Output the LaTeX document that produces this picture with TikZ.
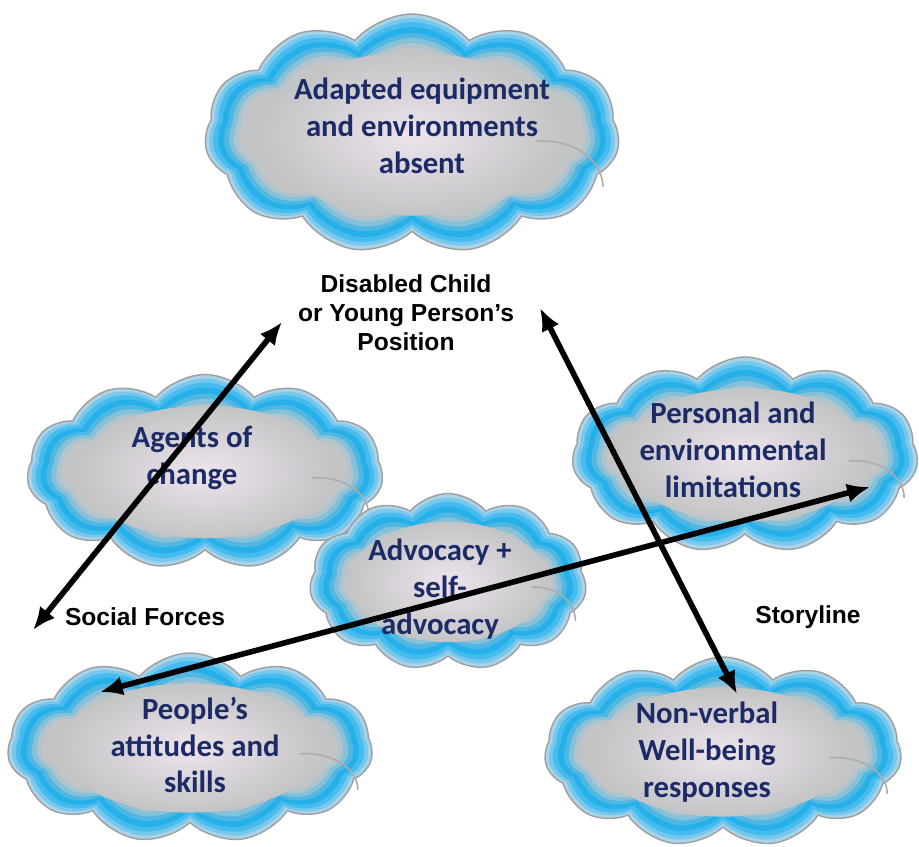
\documentclass[tikz,border=0pt]{standalone}
\usepackage{fontspec}
\usepackage{xcolor}
\usepackage{tikz}
\usetikzlibrary{shapes.symbols}
\usetikzlibrary{arrows.meta}
\newfontfamily\cloudfont{Carlito}
\newfontfamily\labelfont{Liberation Sans}
\definecolor{cloudA}{HTML}{A9D3E8}
\definecolor{cloudB}{HTML}{78C8EE}
\definecolor{cloudC}{HTML}{45BBEE}
\definecolor{cloudD}{HTML}{25B0EA}
\definecolor{cloudE}{HTML}{4FB7E2}
\definecolor{cloudF}{HTML}{86C1DA}
\definecolor{cloudG}{HTML}{B0C4CE}
\definecolor{cloudH}{HTML}{C3C4C6}
\definecolor{cloudPink}{HTML}{EEE4EC}
\definecolor{cloudInk}{HTML}{1C2B66}

\begin{document}
\begin{tikzpicture}[x=0.02cm,y=-0.02cm]
            \tikzset{Cloud/.style={%
                    shape=cloud,%
                    cloud puffs=11,%
                    cloud puff arc=100,%
                    cloud ignores aspect,%
                    inner sep=0pt,%
                    draw=none,%
                },
                CloudText/.style={%
                    font=\cloudfont\bfseries\fontsize{17.5}{21}\selectfont,%
                    text=cloudInk,%
                    align=center,%
                },
                Label/.style={%
                    font=\labelfont\bfseries\fontsize{14}{16.5}\selectfont,%
                    align=center,%
                },
                Arrow/.style={%
                    {Latex[length=13pt,width=11pt]}-{Latex[length=13pt,width=11pt]},%
                    line width=3.2pt,%
                }}

                \useasboundingbox (0,0) rectangle (919,847);

                % the clouds, built up from the rim inwards
                \foreach \n/\cx/\cy/\w/\h in {equip/412/134/415/240, agents/205/472/356/195,
                    limits/745/455/346/196, advocacy/448/582/277/177,
                    attitudes/190/748/365/190, nonverbal/723/752/357/190}{
                    \node[Cloud, draw=gray!75, line width=0.8pt, fill=cloudA,
                        minimum width=\w*0.02cm, minimum height=\h*0.02cm] (\n-bg0) at (\cx,\cy) {};
                    \foreach \d/\col in {4/cloudB, 8/cloudC, 13/cloudD, 19/cloudE, 24/cloudF, 29/cloudG, 34/cloudH}{
                        \node[Cloud, fill=\col, minimum width={(\w-2*\d)*0.02cm},
                            minimum height={(\h-2*\d)*0.02cm}] (\n-bg\d) at (\cx,\cy) {};
                    }
                    \shade[inner color=cloudPink, outer color=cloudH] (\cx,\cy) ellipse [x radius={0.36*\w}, y radius={0.34*\h}];
                    \draw[gray!65, line width=0.9pt] ({\cx+0.3*\w},{\cy+0.03*\h})
                        .. controls ({\cx+0.4*\w},{\cy+0.02*\h}) and ({\cx+0.46*\w},{\cy+0.12*\h}) .. ({\cx+0.46*\w},{\cy+0.22*\h});
                }

                \node[CloudText] (equip) at (422,126) {Adapted equipment\\and environments\\absent};
                \node[CloudText] (agents) at (192,458) {Agents of\\change};
                \node[CloudText] (limits) at (733,450) {Personal and\\environmental\\limitations};
                \node[CloudText] (advocacy) at (440,589) {Advocacy +\\self-\\advocacy};
                \node[CloudText] (attitudes) at (195,745) {People’s\\attitudes and\\skills};
                \node[CloudText] (nonverbal) at (707,752) {Non-verbal\\Well-being\\responses};

                \node[Label] (position) at (406,313) {Disabled Child\\or Young Person’s\\Position};
                \node[Label] (social) at (145,617) {Social Forces};
                \node[Label] (story) at (808,617) {Storyline};

                \coordinate (posLeft) at (282,322);
                \coordinate (socialEnd) at (33,630);
                \coordinate (posRight) at (540,308);
                \coordinate (storyEnd) at (737,694);
                \coordinate (limitsEnd) at (870,487);
                \coordinate (attitudesEnd) at (100,692);

                \draw[Arrow] (posLeft) -- (socialEnd);
                \draw[Arrow] (posRight) -- (storyEnd);
                \draw[Arrow] (limitsEnd) -- (attitudesEnd);
        \end{tikzpicture}
\end{document}
